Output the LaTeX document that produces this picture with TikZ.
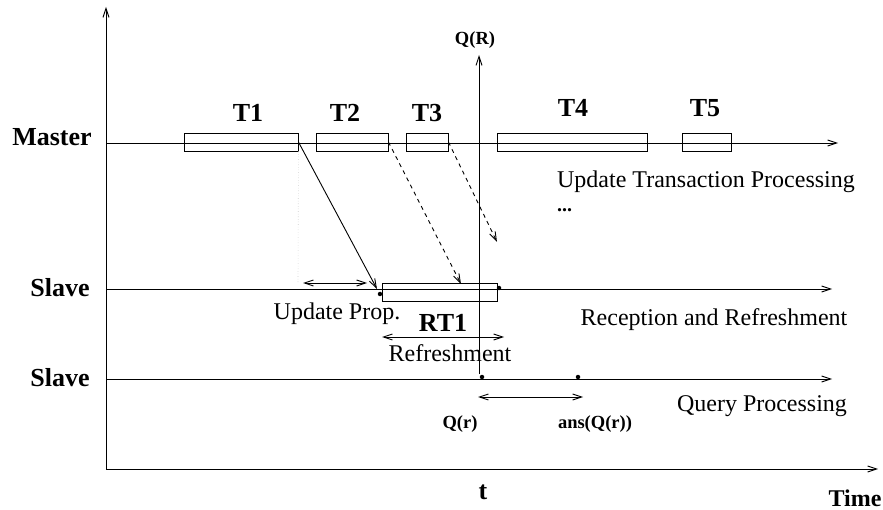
\documentclass[tikz,border=0pt]{standalone}
\usepackage{fontspec}
\setmainfont{Liberation Serif}
\usetikzlibrary{arrows.meta}
\tikzset{
  bigb/.style={font=\fontsize{26}{26}\selectfont\bfseries, inner sep=0pt, anchor=base},
  smallb/.style={font=\fontsize{18.5}{18.5}\selectfont\bfseries, inner sep=0pt, anchor=base},
  reg/.style={font=\fontsize{24}{24}\selectfont, inner sep=0pt, anchor=base},
  tbox/.style={draw, line width=0.9pt, inner sep=0pt, minimum height=18pt},
  ln/.style={line width=0.9pt},
  arr/.style={ln, -{Straight Barb[length=9pt,width=6pt]}},
  darr/.style={ln, {Straight Barb[length=9pt,width=6pt]}-{Straight Barb[length=9pt,width=6pt]}},
  dsh/.style={arr, dash pattern=on 4pt off 4pt},
  dotn/.style={circle, fill, inner sep=0pt, minimum size=4.5pt}
}
\begin{document}
\begin{tikzpicture}[x=1pt,y=-1pt]
\useasboundingbox (0,0) rectangle (883,510);
% axes
\coordinate (O) at (106,469);
\coordinate (Ytop) at (106,7);
\coordinate (Xend) at (878,469);
\draw[arr] (O) -- (Ytop);
\draw[arr] (O) -- (Xend);
% time lines
\coordinate (M0) at (106,143);
\coordinate (M1) at (838,143);
\coordinate (S0) at (106,289);
\coordinate (S1) at (832,289);
\coordinate (R0) at (106,379);
\coordinate (R1) at (832,379);
\draw[arr] (M0) -- (M1);
\draw[arr] (S0) -- (S1);
\draw[arr] (R0) -- (R1);
% labels of lines
\node[bigb] (master) at (52,146) {Master};
\node[bigb] (slave1) at (60,297) {Slave};
\node[bigb] (slave2) at (60,386) {Slave};
% transaction boxes
\node[tbox, minimum width=114pt] (T1box) at (241,142) {};
\node[tbox, minimum width=72pt] (T2box) at (352,142) {};
\node[tbox, minimum width=42pt] (T3box) at (427,142) {};
\node[tbox, minimum width=150pt] (T4box) at (572,142) {};
\node[tbox, minimum width=49pt] (T5box) at (706.5,142) {};
\node[bigb] (T1) at (248,122) {T1};
\node[bigb] (T2) at (345,122) {T2};
\node[bigb] (T3) at (427,122) {T3};
\node[bigb] (T4) at (573,117) {T4};
\node[bigb] (T5) at (705,117) {T5};
\node[reg] (utp) at (706,188) {Update Transaction Processing};
\node[font=\fontsize{20}{20}\selectfont\bfseries, inner sep=0pt, anchor=base west] (dots) at (557,212) {...};
% refresh box
\node[tbox, minimum width=115pt] (RT1box) at (439.5,292) {};
\node[bigb] (RT1) at (443,332) {RT1};
\node[dotn] (d1) at (380,294) {};
\node[dotn] (d2) at (499,288) {};
% propagation arrows
\coordinate (a1) at (377,289);
\coordinate (a2) at (461,284);
\coordinate (a3) at (497,242);
\draw[arr] (T1box.east) -- (a1);
\draw[dsh] (T2box.east) -- (a2);
\draw[dsh] (T3box.east) -- (a3);
% faint dotted
\coordinate (fd) at (298,283);
\draw[black!20, dotted, line width=0.6pt] (T1box.south east) -- (fd);
% update prop
\coordinate (up0) at (303,283);
\coordinate (up1) at (367,283);
\draw[darr] (up0) -- (up1);
\node[reg] (uplabel) at (337,320) {Update Prop.};
% refreshment
\coordinate (rf0) at (382,337);
\coordinate (rf1) at (504,337);
\draw[darr] (rf0) -- (rf1);
\node[reg] (rflabel) at (450,361) {Refreshment};
\node[reg] (rec) at (714,326) {Reception and Refreshment};
% Q(R) vertical
\coordinate (qb) at (479,374);
\coordinate (qt) at (479,55);
\draw[arr] (qb) -- (qt);
\node[smallb] (QR) at (475,45) {Q(R)};
% query processing
\node[dotn] (q1) at (482,377) {};
\node[dotn] (q2) at (578,377) {};
\coordinate (qa0) at (478,397);
\coordinate (qa1) at (583,397);
\draw[darr] (qa0) -- (qa1);
\node[smallb] (Qr) at (460,428) {Q(r)};
\node[smallb] (ans) at (595,428) {ans(Q(r))};
\node[reg] (qp) at (762,411) {Query Processing};
\node[bigb] (t) at (483,499) {t};
\node[font=\fontsize{24}{24}\selectfont\bfseries, inner sep=0pt, anchor=base] (time) at (855,506) {Time};
\end{tikzpicture}
\end{document}
